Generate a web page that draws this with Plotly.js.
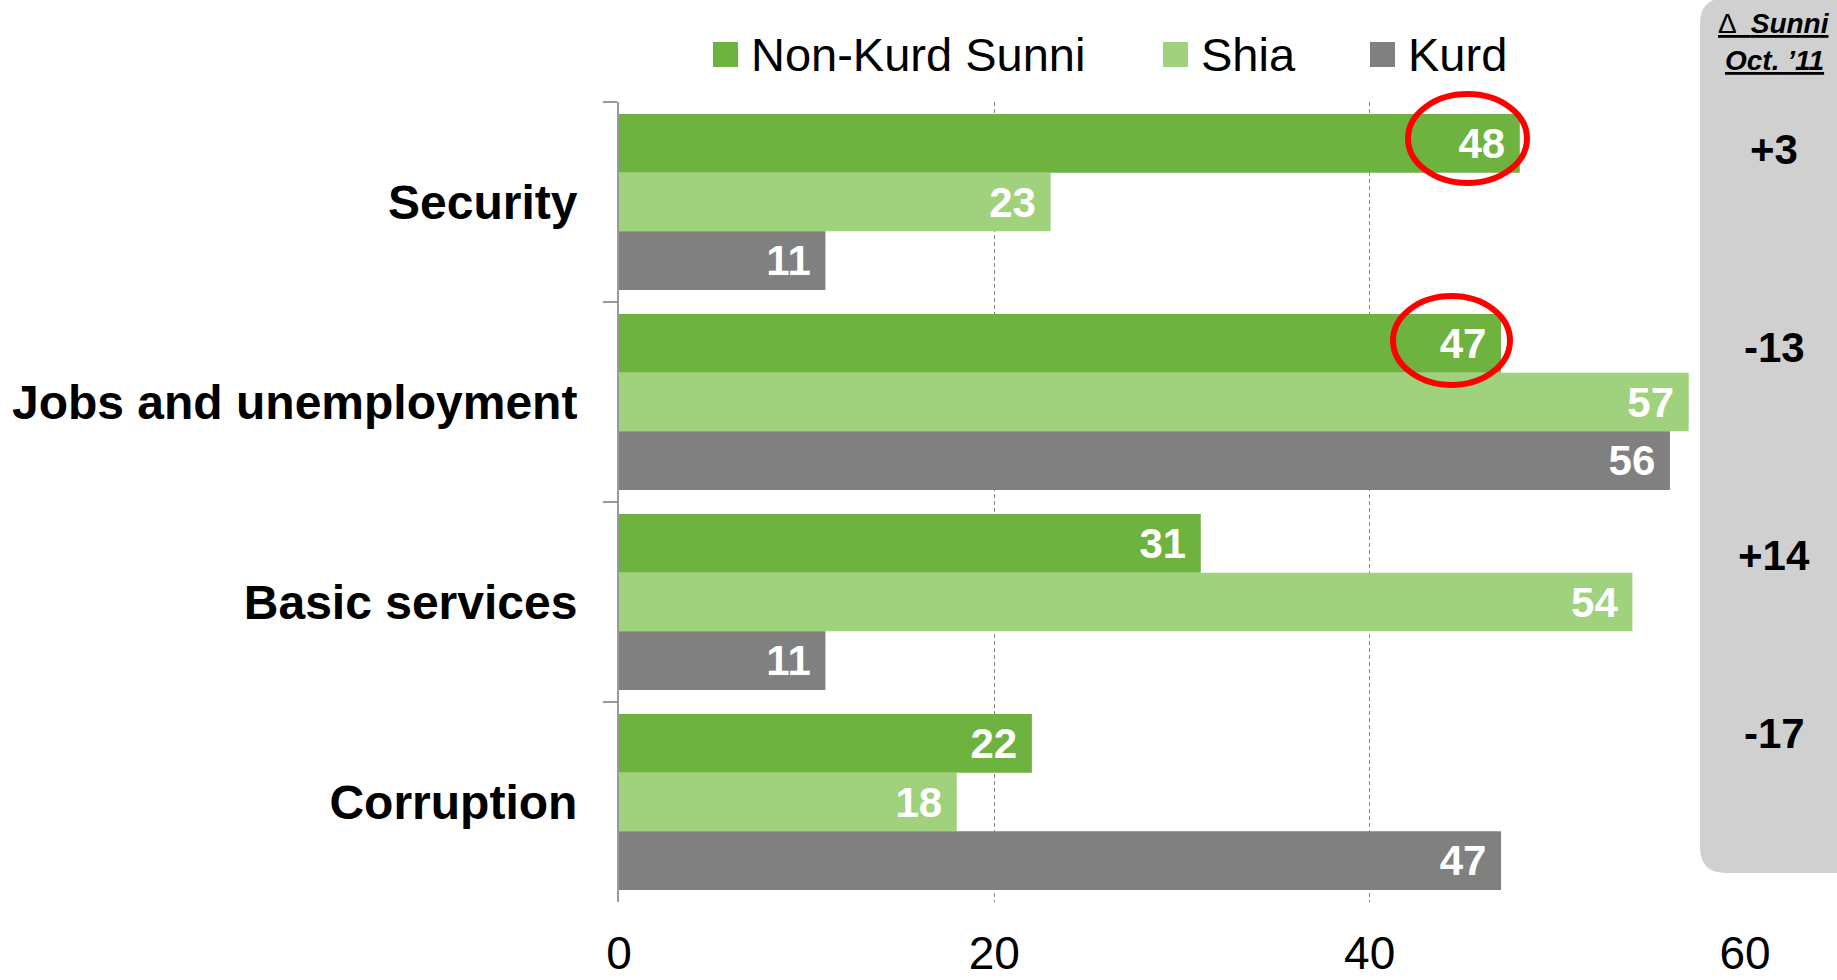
<!DOCTYPE html>
<html>
<head>
<meta charset="utf-8">
<script src="https://cdn.plot.ly/plotly-3.0.1.min.js"></script>
<style>html,body{margin:0;padding:0;background:#fff;}#chart{width:1837px;height:980px;}</style>
</head>
<body>
<div id="chart"></div>
<script>
// ---- data ----
var categories = ['Security', 'Jobs and unemployment', 'Basic services', 'Corruption'];
var seriesNames = ['Non-Kurd Sunni', 'Shia', 'Kurd'];
var sunni = [48, 47, 31, 22];
var shia = [23, 57, 54, 18];
var kurd = [11, 56, 11, 47];
var deltaSunni = ['+3', '-13', '+14', '-17'];
var deltaHeader = ['\u0394  <b><i>Sunni</i></b>', '<b><i>Oct. \u201911</i></b>'];
var xTicks = [0, 20, 40, 60];

// ---- styling / layout ----
var FONT = 'Liberation Sans, Arial, sans-serif';
var colors = ['#6EB240', '#A0D17D', '#808080'];
var W = 1837, H = 980;
var L = 619, R = 1745, T = 102, B = 902;
function px(x) { return (x - L) / (R - L); }
function py(y) { return (B - y) / (B - T); }

var seriesData = [sunni, shia, kurd];
var traces = seriesData.map(function (vals, i) {
  return {
    type: 'bar', orientation: 'h', name: seriesNames[i],
    y: categories, x: vals,
    marker: { color: colors[i], line: { width: 0 } },
    texttemplate: '%{x}\u00A0',
    textposition: 'inside', insidetextanchor: 'end', constraintext: 'none',
    textfont: { family: FONT, size: 42, color: '#ffffff', weight: 'bold' },
    hoverinfo: 'none', showlegend: false
  };
});

var shapes = [];
var annotations = [];

// grey delta panel (rounded rectangle)
(function () {
  var x0 = 1700, x1 = 1860, y0 = -2, y1 = 873, r = 26;
  var p = 'M ' + px(x0) + ' ' + py(y0 + r) +
    ' Q ' + px(x0) + ' ' + py(y0) + ' ' + px(x0 + r) + ' ' + py(y0) +
    ' L ' + px(x1) + ' ' + py(y0) +
    ' L ' + px(x1) + ' ' + py(y1) +
    ' L ' + px(x0 + r) + ' ' + py(y1) +
    ' Q ' + px(x0) + ' ' + py(y1) + ' ' + px(x0) + ' ' + py(y1 - r) + ' Z';
  shapes.push({ type: 'path', xref: 'paper', yref: 'paper', path: p,
    fillcolor: '#D0D0D0', line: { width: 0 }, layer: 'above' });
})();

// red highlight ellipses
[[1408, 94, 1527, 183], [1393, 296, 1510, 385]].forEach(function (e) {
  shapes.push({ type: 'circle', xref: 'paper', yref: 'paper',
    x0: px(e[0]), x1: px(e[2]), y0: py(e[3]), y1: py(e[1]),
    line: { color: '#FF0000', width: 6 }, fillcolor: 'rgba(0,0,0,0)', layer: 'above' });
});

// custom legend
var legendSquareX = [713, 1163, 1370];
seriesNames.forEach(function (n, i) {
  var sx = legendSquareX[i];
  shapes.push({ type: 'rect', xref: 'paper', yref: 'paper',
    x0: px(sx), x1: px(sx + 25), y0: py(67), y1: py(42),
    fillcolor: colors[i], line: { width: 0 }, layer: 'above' });
  annotations.push({ xref: 'paper', yref: 'paper', x: px(sx + 36), y: py(55),
    xanchor: 'left', yanchor: 'middle', showarrow: false, text: n,
    font: { family: FONT, size: 47, color: '#000' } });
});

// delta header
[23, 61].forEach(function (yy, i) {
  annotations.push({ xref: 'paper', yref: 'paper', x: px(1774), y: py(yy),
    xanchor: 'center', yanchor: 'middle', showarrow: false,
    text: '<u>' + deltaHeader[i] + '</u>',
    font: { family: FONT, size: 28, color: '#000' } });
});

// delta values
var deltaYShift = [53, 55, 47, 69];
deltaSunni.forEach(function (d, i) {
  annotations.push({ xref: 'paper', yref: 'y', x: px(1774), y: i, yshift: deltaYShift[i],
    xanchor: 'center', yanchor: 'middle', showarrow: false, text: d,
    font: { family: FONT, size: 42, color: '#000', weight: 'bold' } });
});

var layout = {
  width: W, height: H,
  margin: { l: L, r: W - R, t: T, b: H - B, pad: 0 },
  paper_bgcolor: '#ffffff', plot_bgcolor: '#ffffff',
  barmode: 'group', bargap: 0.12, bargroupgap: 0,
  showlegend: false,
  font: { family: FONT, color: '#000' },
  xaxis: {
    range: [0, 60], tickvals: xTicks, ticktext: xTicks.map(String),
    showgrid: true, gridcolor: '#888888', gridwidth: 1, griddash: '4px,3px',
    zeroline: false, showline: false, ticks: '',
    ticklabelstandoff: 20,
    tickfont: { family: FONT, size: 46, color: '#000' }, fixedrange: true
  },
  yaxis: {
    type: 'category', categoryarray: categories, range: [3.5, -0.5],
    tickson: 'boundaries', ticks: 'outside', ticklen: 14, tickwidth: 2, tickcolor: '#999999',
    showline: true, linecolor: '#999999', linewidth: 2, showgrid: false, zeroline: false,
    ticklabelstandoff: 30,
    tickfont: { family: FONT, size: 48, color: '#000', weight: 'bold' }, fixedrange: true
  },
  shapes: shapes,
  annotations: annotations
};

Plotly.newPlot('chart', traces, layout, { displayModeBar: false, staticPlot: true });
</script>
</body>
</html>
